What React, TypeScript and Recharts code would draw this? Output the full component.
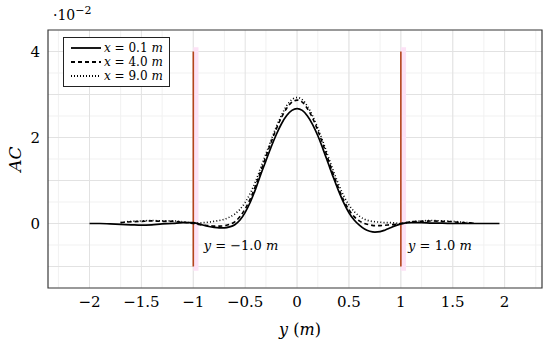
import { ComposedChart, Line, XAxis, YAxis, CartesianGrid, ReferenceArea, ReferenceLine, Scatter, Legend, Label } from "recharts"

// transverse position y (m)
const yPos = [
  -2.0, -1.9, -1.8, -1.7, -1.6, -1.5, -1.4, -1.3, -1.2, -1.1, -1.0,
  -0.95, -0.9, -0.85, -0.8, -0.75, -0.7, -0.65, -0.6, -0.55, -0.5, -0.45, -0.4, -0.35, -0.3, -0.25, -0.2, -0.15, -0.1, -0.05,
  0,
  0.05, 0.1, 0.15, 0.2, 0.25, 0.3, 0.35, 0.4, 0.45, 0.5, 0.55, 0.6, 0.65, 0.7, 0.75, 0.8, 0.85, 0.9, 0.95,
  1.0, 1.1, 1.2, 1.3, 1.4, 1.5, 1.6, 1.7, 1.8, 1.9, 1.95,
]

// AC (x 1e-2) at x = 0.1 m
const acX01 = [
  0.0, 0.0, -0.01, -0.02, -0.03, -0.04, -0.03, -0.01, 0.0, 0.02, 0.02,
  -0.01, -0.04, -0.07, -0.09, -0.1, -0.1, -0.08, -0.03, 0.08, 0.26, 0.5, 0.8, 1.14, 1.46, 1.78, 2.07, 2.32, 2.51, 2.63,
  2.67,
  2.63, 2.5, 2.3, 2.04, 1.73, 1.4, 1.07, 0.76, 0.48, 0.25, 0.08, -0.04, -0.13, -0.18, -0.2, -0.19, -0.15, -0.1, -0.05,
  -0.01, 0.02, 0.02, 0.01, 0.01, 0.0, 0.0, 0.0, 0.0, 0.0, 0.0,
]

// AC at x = 4.0 m
const acX40 = [
  null, null, null, 0.02, 0.04, 0.05, 0.06, 0.05, 0.05, 0.03, 0.0,
  -0.02, -0.04, -0.05, -0.06, -0.06, -0.05, -0.02, 0.04, 0.16, 0.34, 0.58, 0.88, 1.22, 1.56, 1.89, 2.2, 2.47, 2.68, 2.82,
  2.87,
  2.82, 2.67, 2.45, 2.16, 1.84, 1.49, 1.14, 0.82, 0.54, 0.32, 0.16, 0.06, 0.0, -0.03, -0.05, -0.05, -0.04, -0.03, -0.02,
  0.0, 0.04, 0.05, 0.06, 0.05, 0.04, 0.02, 0.01, null, null, null,
]

// AC at x = 9.0 m
const acX90 = [
  null, null, null, 0.02, 0.05, 0.06, 0.07, 0.06, 0.06, 0.04, 0.01,
  0.01, 0.02, 0.03, 0.05, 0.07, 0.1, 0.15, 0.22, 0.33, 0.49, 0.71, 0.98, 1.3, 1.62, 1.94, 2.25, 2.52, 2.74, 2.88,
  2.93,
  2.88, 2.73, 2.5, 2.22, 1.9, 1.56, 1.22, 0.91, 0.64, 0.43, 0.28, 0.17, 0.1, 0.06, 0.04, 0.03, 0.02, 0.02, 0.01,
  0.0, 0.04, 0.06, 0.07, 0.06, 0.05, 0.03, 0.01, null, null, null,
]

const xTicks = [-2, -1.5, -1, -0.5, 0, 0.5, 1, 1.5, 2]
const acTicks = [0, 2, 4]
const walls = [-1, 1]
const wallLabels = [
  { y: -0.9, ac: -0.5, text: "−1.0" },
  { y: 1.07, ac: -0.5, text: "1.0" },
]
const legendItems = [
  { key: "x01", name: "0.1", dash: undefined },
  { key: "x40", name: "4.0", dash: "4 3" },
  { key: "x90", name: "9.0", dash: "1 2" },
]

const xDomain = [-2.4, 2.36]
const acDomain = [-1.5, 4.5]

const rows = yPos.map((y, i) => ({ y, x01: acX01[i], x40: acX40[i], x90: acX90[i] }))

const steps = (from: number, to: number, step: number) => {
  const out: number[] = []
  for (let v = from; v <= to + 1e-9; v += step) out.push(Math.round(v * 100) / 100)
  return out
}
const minorX = steps(-2.4, 2.3, 0.1)
const majorX = steps(-2, 2, 0.5)
const minorY = steps(-1.5, 4.5, 0.5)
const majorY = steps(-1, 4, 1)

const serif = "DejaVu Serif"
const fmt = (v: number) => String(v).replace("-", "−")

function LegendBox() {
  return (
    <div style={{ border: "1px solid #222", background: "#fff", padding: "3px 6px", fontFamily: serif, fontSize: 12, lineHeight: "14px" }}>
      {legendItems.map((it) => (
        <div key={it.key} style={{ display: "flex", alignItems: "center", whiteSpace: "nowrap" }}>
          <svg width={32} height={10}>
            <line x1={1} y1={5} x2={31} y2={5} stroke="#000" strokeWidth={1.8} strokeDasharray={it.dash} />
          </svg>
          <span style={{ marginLeft: 2 }}>
            <i>x</i> = {it.name} <i>m</i>
          </span>
        </div>
      ))}
    </div>
  )
}

function WallLabel(props: any) {
  const { cx, cy, payload } = props
  return (
    <text x={cx} y={cy} dominantBaseline="central" fontFamily={serif} fontSize={13} fill="#000">
      <tspan fontStyle="italic">y</tspan> = {payload.text} <tspan fontStyle="italic">m</tspan>
    </text>
  )
}

export default function App() {
  return (
    <div style={{ position: "absolute", left: 0, top: 0, width: 550, height: 345, background: "#fff" }}>
      <div style={{ position: "absolute", left: 53, top: 4, fontFamily: serif, fontSize: 14, zIndex: 2 }}>
        ·10<sup style={{ fontSize: 11, verticalAlign: "6px" }}>−2</sup>
      </div>
      <ComposedChart width={550} height={345} data={rows} margin={{ top: 30, right: 8, bottom: 0, left: 0 }}>
        <CartesianGrid verticalValues={minorX} horizontalValues={minorY} stroke="#f1f1f1" strokeWidth={1} />
        <CartesianGrid verticalValues={majorX} horizontalValues={majorY} stroke="#e2e2e2" strokeWidth={1} />
        <XAxis
          dataKey="y"
          type="number"
          domain={xDomain}
          ticks={xTicks}
          allowDataOverflow
          axisLine={false}
          tickLine={false}
          tickSize={0}
          tickMargin={8}
          height={57}
          tickFormatter={fmt}
          tick={{ fill: "#000", fontFamily: serif, fontSize: 15 }}
        >
          <Label
            content={({ viewBox }: any) => (
              <text x={viewBox.x + viewBox.width / 2 + 5} y={viewBox.y + 47} textAnchor="middle" fontFamily={serif} fontSize={16} fill="#000">
                <tspan fontStyle="italic">y</tspan> (<tspan fontStyle="italic">m</tspan>)
              </text>
            )}
          />
        </XAxis>
        <YAxis
          type="number"
          domain={acDomain}
          ticks={acTicks}
          allowDataOverflow
          axisLine={false}
          tickLine={false}
          tickSize={0}
          tickMargin={8}
          width={48}
          tickFormatter={fmt}
          tick={{ fill: "#000", fontFamily: serif, fontSize: 15 }}
        >
          <Label
            content={() => (
              <text x={15} y={159} transform="rotate(-90 15 159)" textAnchor="middle" dominantBaseline="central" fontFamily={serif} fontSize={17} fontStyle="italic" fill="#000">
                AC
              </text>
            )}
          />
        </YAxis>
        {walls.map((w) => (
          <ReferenceArea key={"band" + w} x1={w} x2={w + 0.05} y1={-1.1} y2={4.1} fill="#fde2f6" fillOpacity={1} stroke="none" />
        ))}
        {walls.map((w) => (
          <ReferenceLine key={"wall" + w} segment={[{ x: w, y: -1 }, { x: w, y: 4 }]} stroke="#b4441c" strokeWidth={1.6} />
        ))}
        <Line dataKey="x90" stroke="#000" strokeWidth={1.6} strokeDasharray="1 2.2" dot={false} type="monotone" isAnimationActive={false} />
        <Line dataKey="x40" stroke="#000" strokeWidth={1.6} strokeDasharray="4 3" dot={false} type="monotone" isAnimationActive={false} />
        <Line dataKey="x01" stroke="#000" strokeWidth={1.7} dot={false} type="monotone" isAnimationActive={false} />
        <Scatter data={wallLabels} dataKey="ac" shape={WallLabel} isAnimationActive={false} legendType="none" />
        <ReferenceArea x1={xDomain[0]} x2={xDomain[1]} y1={acDomain[0]} y2={acDomain[1]} fill="none" stroke="#3a3a3a" strokeWidth={1.2} />
        <Legend
          layout="horizontal"
          verticalAlign="middle"
          align="center"
          content={() => <LegendBox />}
          wrapperStyle={{ left: 63, top: 37, width: "auto", bottom: "auto", right: "auto" }}
        />
      </ComposedChart>
    </div>
  )
}
